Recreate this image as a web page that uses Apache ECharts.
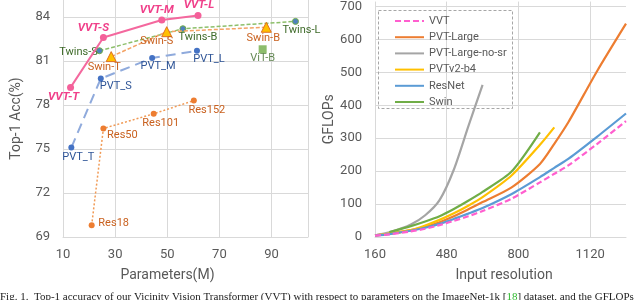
<!DOCTYPE html>
<html><head><meta charset="utf-8">
<script src="https://cdn.jsdelivr.net/npm/echarts@6.0.0/dist/echarts.min.js"></script>
<style>html,body{margin:0;padding:0;background:#fff}#c{width:640px;height:300px}</style>
</head><body><div id="c"></div>
<script>
// ---------- Left chart: Top-1 accuracy vs parameters ----------
const vvtNames = ['VVT-T', 'VVT-S', 'VVT-M', 'VVT-L'];
const vvtParams = [12.9, 25.5, 47.9, 61.8];
const vvtAcc = [79.2, 82.6, 83.8, 84.1];

const pvtNames = ['PVT_T', 'PVT_S', 'PVT_M', 'PVT_L'];
const pvtParams = [13.2, 24.5, 44.2, 61.4];
const pvtAcc = [75.1, 79.8, 81.2, 81.7];

const twinsNames = ['Twins-S', 'Twins-B', 'Twins-L'];
const twinsParams = [24.0, 56.0, 99.2];
const twinsAcc = [81.7, 83.2, 83.7];

const swinNames = ['Swin-T', 'Swin-S', 'Swin-B'];
const swinParams = [28.5, 49.8, 88.0];
const swinAcc = [81.3, 83.0, 83.3];

const vitNames = ['ViT-B'];
const vitParams = [86.6];
const vitAcc = [81.8];

const resNames = ['Res18', 'Res50', 'Res101', 'Res152'];
const resParams = [21.0, 25.5, 44.8, 60.2];
const resAcc = [69.8, 76.4, 77.4, 78.3];

const accTicks = [69, 72, 75, 78, 81, 84];
const paramTicks = [10, 30, 50, 70, 90];

// ---------- Right chart: GFLOPs vs input resolution ----------
const resolutions = [160, 224, 320, 384, 448, 512, 576, 640, 768, 896, 960, 1024, 1152, 1280];
const gVVT      = [4, 8, 17, 25, 36, 49, 63, 79, 116, 166, 192, 218, 283, 352];
const gPVTLarge = [5, 10, 21, 31, 45, 63, 84, 106, 150, 222, 283, 350, 505, 648];
const gPVTNoSr  = [5, 14, 38, 66, 112, 205, 335, 462, null, null, null, null, null, null];
const gPVTv2    = [4, 10, 21, 35, 52, 72, 95, 121, 186, 280, 333, null, null, null];
const gResNet   = [4, 9, 19, 28, 40, 55, 71, 88, 130, 182, 210, 238, 305, 375];
const gSwin     = [null, 15, 33, 47, 63, 85, 110, 137, 198, 318, null, null, null, null];
const gflopTicks = [0, 100, 200, 300, 400, 500, 600, 700];
const resTicks = [160, 480, 800, 1120];

// ---------- styles (not data) ----------
const labelOffsets = {
  'VVT-T': [-7, 10], 'VVT-S': [-10, -9], 'VVT-M': [-5, -10], 'VVT-L': [1, -10],
  'Twins-S': [-21, 2], 'Twins-B': [15, 9], 'Twins-L': [6, 9],
  'Swin-T': [-7, 11], 'Swin-S': [-10, 10], 'Swin-B': [-3, 11],
  'ViT-B': [0, 9],
  'PVT_T': [7, 10], 'PVT_S': [15, 8], 'PVT_M': [6, 8], 'PVT_L': [12, 9],
  'Res18': [22, -2], 'Res50': [19, 7], 'Res101': [7, 9], 'Res152': [13, 10]
};
const FONT = 'Roboto, "Noto Sans", sans-serif';
const GRAY = '#595959';
const GRID = '#D9D9D9';

function pts(names, xs, ys) {
  return xs.map((x, i) => ({
    name: names[i],
    value: [x, ys[i]],
    label: { offset: labelOffsets[names[i]] || [0, 0] }
  }));
}
function pairs(ys) {
  return resolutions.map((r, i) => [r, ys[i]]);
}
function ptLabel(color, extra) {
  return Object.assign({
    show: true, position: 'inside', align: 'center', verticalAlign: 'middle',
    formatter: '{b}', color: color, fontSize: 11, fontFamily: FONT
  }, extra || {});
}

const chart = echarts.init(document.getElementById('c'), null, { renderer: 'canvas' });
const axisLabelStyle = { color: GRAY, fontSize: 13, fontFamily: FONT, formatter: v => String(v) };
const axisNameStyle = { color: GRAY, fontSize: 14, fontFamily: FONT };

const option = {
  animation: false,
  backgroundColor: '#fff',
  grid: [
    { left: 63, right: 332, top: 0, bottom: 63 },
    { left: 375, right: 14, top: 0, bottom: 63 }
  ],
  xAxis: [
    {
      gridIndex: 0, type: 'value', min: paramTicks[0], max: 104, interval: 20,
      name: 'Parameters(M)', nameLocation: 'middle', nameGap: 31,
      nameTextStyle: Object.assign({ padding: [0, 36, 0, 0] }, axisNameStyle),
      axisLine: { show: true, lineStyle: { color: GRID, width: 1 } },
      axisTick: { show: false },
      axisLabel: Object.assign({ margin: 11, showMaxLabel: false }, axisLabelStyle),
      splitLine: { show: true, lineStyle: { color: GRID, width: 1 } }
    },
    {
      gridIndex: 1, type: 'value', min: resTicks[0], max: 1280, interval: 320,
      name: 'Input resolution', nameLocation: 'middle', nameGap: 31,
      nameTextStyle: Object.assign({ padding: [0, 0, 0, 7] }, axisNameStyle),
      axisLine: { show: true, lineStyle: { color: GRID, width: 1 } },
      axisTick: { show: false },
      axisLabel: Object.assign({ margin: 11, showMaxLabel: false }, axisLabelStyle),
      splitLine: { show: true, showMaxLine: false, lineStyle: { color: GRID, width: 1 } }
    }
  ],
  yAxis: [
    {
      gridIndex: 0, type: 'value', min: accTicks[0], max: 85.16, interval: 3,
      name: 'Top-1 Acc(%)', nameLocation: 'middle', nameGap: 40,
      nameTextStyle: axisNameStyle,
      axisLine: { show: false }, axisTick: { show: false },
      axisLabel: Object.assign({ margin: 13, showMaxLabel: false }, axisLabelStyle),
      splitLine: { show: true, showMaxLine: false, lineStyle: { color: GRID, width: 1 } }
    },
    {
      gridIndex: 1, type: 'value', min: gflopTicks[0], max: 715, interval: 100,
      name: 'GFLOPs', nameLocation: 'middle', nameGap: 32,
      nameTextStyle: axisNameStyle,
      axisLine: { show: false }, axisTick: { show: false },
      axisLabel: Object.assign({ margin: 13, showMaxLabel: false }, axisLabelStyle),
      splitLine: { show: true, showMaxLine: false, lineStyle: { color: GRID, width: 1 } }
    }
  ],
  legend: {
    show: true, orient: 'vertical', left: 389, top: 9,
    itemWidth: 29, itemHeight: 14, itemGap: 2.2,
    itemStyle: { opacity: 0 },
    textStyle: { color: GRAY, fontSize: 11, fontFamily: FONT, lineHeight: 14 },
    data: ['VVT', 'PVT-Large', 'PVT-Large-no-sr', 'PVTv2-b4', 'ResNet', 'Swin']
  },
  graphic: [
    {
      type: 'rect', left: 376, top: 8, z: 100, silent: true,
      shape: { width: 134, height: 98 },
      style: { fill: 'none', stroke: '#A6A6A6', lineWidth: 1, lineDash: [3, 2] }
    },
    {
      type: 'text', left: 0, top: 292, z: 100, silent: true,
      style: {
        text: 'Fig. 1.  Top-1 accuracy of our Vicinity Vision Transformer (VVT) with respect to parameters on the ImageNet-1k [{g|18}] dataset, and the GFLOPs',
        rich: { g: { fill: '#2DB82D', fontSize: 11, fontFamily: '"Liberation Serif", serif' } },
        fill: '#222', fontSize: 11, fontFamily: '"Liberation Serif", serif'
      }
    }
  ],
  series: [
    // left chart
    {
      name: 'ResNet-pts', type: 'line', xAxisIndex: 0, yAxisIndex: 0,
      data: pts(resNames, resParams, resAcc),
      symbol: 'circle', symbolSize: 6, itemStyle: { color: '#ED7D31' },
      lineStyle: { color: '#F19A55', width: 1.5, type: [2, 2] },
      label: ptLabel('#C9611F'), z: 3
    },
    {
      name: 'PVT-pts', type: 'line', xAxisIndex: 0, yAxisIndex: 0,
      data: pts(pvtNames, pvtParams, pvtAcc),
      symbol: 'circle', symbolSize: 6, itemStyle: { color: '#4472C4' },
      lineStyle: { color: '#8FAADC', width: 2, type: [10, 6] },
      label: ptLabel('#2F5597'), z: 3
    },
    {
      name: 'Twins-pts', type: 'line', xAxisIndex: 0, yAxisIndex: 0,
      data: pts(twinsNames, twinsParams, twinsAcc),
      symbol: 'circle', symbolSize: 6,
      itemStyle: { color: '#4F81BD', borderColor: '#70AD47', borderWidth: 1 },
      lineStyle: { color: '#8DBF6A', width: 1.5, type: [4, 2] },
      label: ptLabel('#3F6B2A'), z: 3
    },
    {
      name: 'Swin-pts', type: 'line', xAxisIndex: 0, yAxisIndex: 0,
      data: pts(swinNames, swinParams, swinAcc),
      symbol: 'triangle', symbolSize: 10,
      itemStyle: { color: '#FFC000', borderColor: '#E07020', borderWidth: 1 },
      lineStyle: { color: '#F4A365', width: 1.5, type: [4, 2] },
      label: ptLabel('#C9611F'), z: 4
    },
    {
      name: 'ViT-pts', type: 'scatter', xAxisIndex: 0, yAxisIndex: 0,
      data: pts(vitNames, vitParams, vitAcc),
      symbol: 'rect', symbolSize: 8, itemStyle: { color: '#70AD47' },
      label: ptLabel('#3F6B2A'), z: 4
    },
    {
      name: 'VVT-pts', type: 'line', xAxisIndex: 0, yAxisIndex: 0,
      data: pts(vvtNames, vvtParams, vvtAcc),
      symbol: 'circle', symbolSize: 7, itemStyle: { color: '#F4609A' },
      lineStyle: { color: '#F4689E', width: 2 },
      label: ptLabel('#F0408A', { fontWeight: 'bold', fontStyle: 'italic', fontSize: 11.5 }), z: 5
    },
    // right chart
    {
      name: 'VVT', type: 'line', xAxisIndex: 1, yAxisIndex: 1, data: pairs(gVVT),
      showSymbol: false, symbol: 'none', smooth: 0.25, z: 6,
      itemStyle: { color: '#FF5FCF' }, lineStyle: { color: '#FF5FCF', width: 2.2, type: [6, 3] }
    },
    {
      name: 'PVT-Large', type: 'line', xAxisIndex: 1, yAxisIndex: 1, data: pairs(gPVTLarge),
      showSymbol: false, symbol: 'none', smooth: 0.25,
      itemStyle: { color: '#ED7D31' }, lineStyle: { color: '#ED7D31', width: 2.2 }
    },
    {
      name: 'PVT-Large-no-sr', type: 'line', xAxisIndex: 1, yAxisIndex: 1, data: pairs(gPVTNoSr),
      showSymbol: false, symbol: 'none', smooth: 0.25,
      itemStyle: { color: '#A5A5A5' }, lineStyle: { color: '#A5A5A5', width: 2.2 }
    },
    {
      name: 'PVTv2-b4', type: 'line', xAxisIndex: 1, yAxisIndex: 1, data: pairs(gPVTv2),
      showSymbol: false, symbol: 'none', smooth: 0.25,
      itemStyle: { color: '#FFC000' }, lineStyle: { color: '#FFC000', width: 2.2 }
    },
    {
      name: 'ResNet', type: 'line', xAxisIndex: 1, yAxisIndex: 1, data: pairs(gResNet),
      showSymbol: false, symbol: 'none', smooth: 0.25,
      itemStyle: { color: '#5B9BD5' }, lineStyle: { color: '#5B9BD5', width: 2.2 }
    },
    {
      name: 'Swin', type: 'line', xAxisIndex: 1, yAxisIndex: 1, data: pairs(gSwin),
      showSymbol: false, symbol: 'none', smooth: 0.25,
      itemStyle: { color: '#70AD47' }, lineStyle: { color: '#70AD47', width: 2.2 }
    }
  ]
};
chart.setOption(option);
</script>
</body></html>
